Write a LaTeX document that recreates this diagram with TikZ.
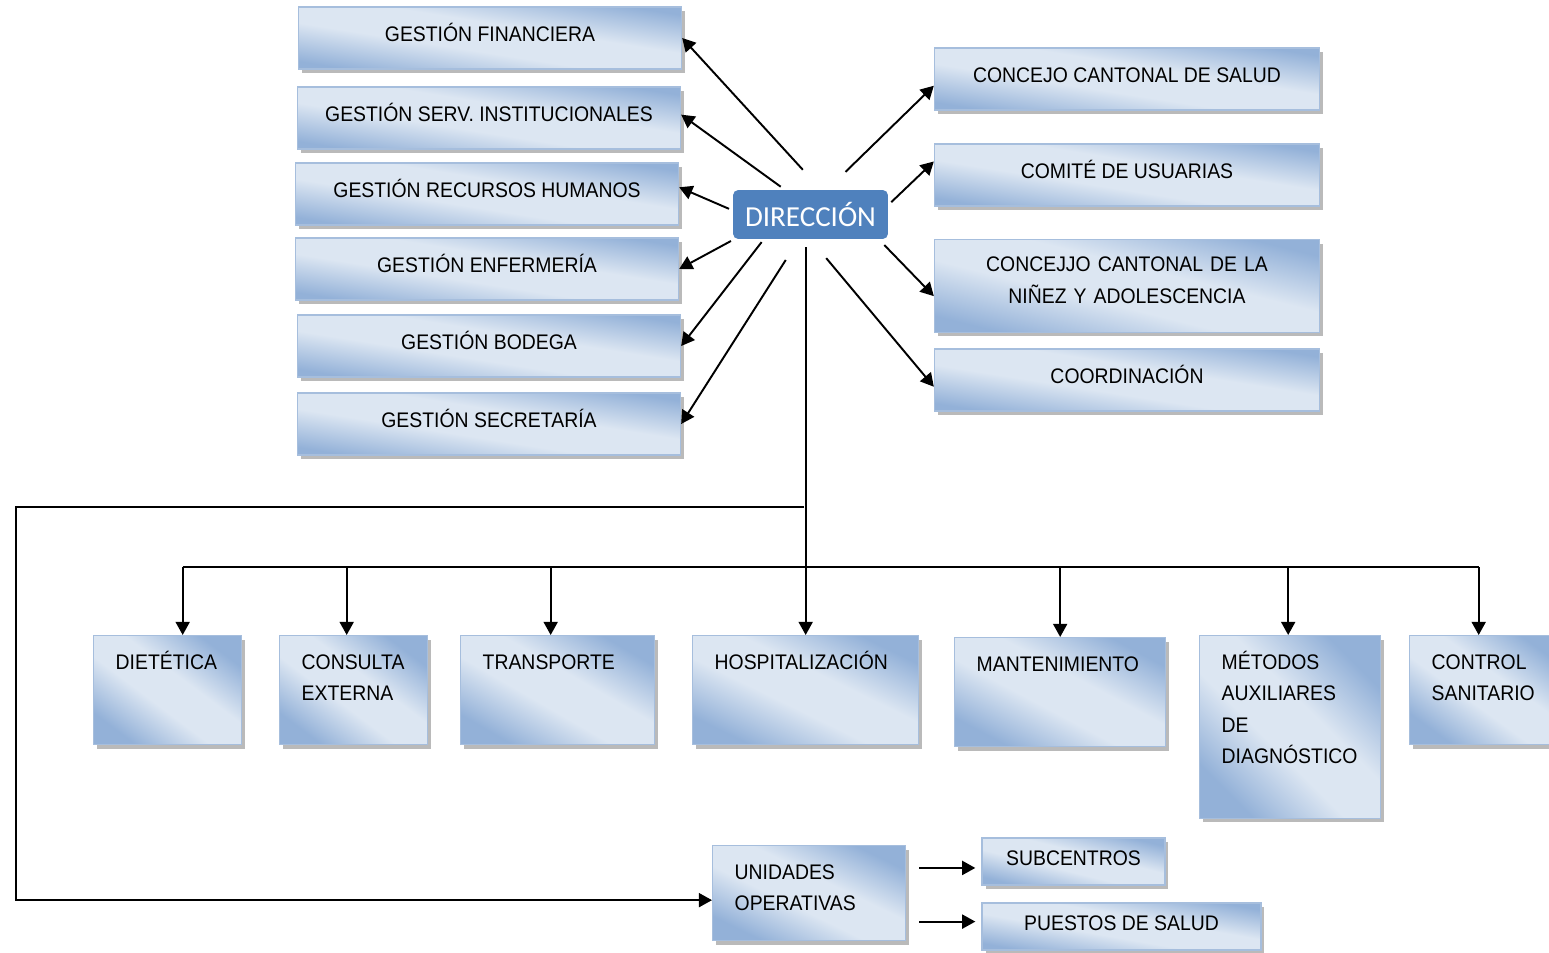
\documentclass[tikz,border=0pt]{standalone}
\usepackage{fontspec}
\setmainfont{Liberation Sans}[FakeStretch=0.92]
\newfontfamily\dirfont{Carlito}
\usepackage{tikz}
\usetikzlibrary{arrows.meta,shadows,calc}

\definecolor{boxblue}{HTML}{93B1D8}
\definecolor{boxlight}{HTML}{DCE6F2}
\definecolor{boxline}{HTML}{A6BEDD}
\definecolor{dirblue}{HTML}{4F81BD}
\pgfdeclareverticalshading{boxshade}{100bp}{color(0bp)=(boxblue); color(25bp)=(boxblue);
    color(43bp)=(boxlight); color(57bp)=(boxlight); color(75bp)=(boxblue); color(100bp)=(boxblue)}

\begin{document}
\begin{tikzpicture}[
                x=0.02cm, y=-0.02cm,
                every node/.append style={inner sep=0pt},
                box/.style={draw=boxline, line width=0.8pt, shading=boxshade, shading angle=-9,
                    drop shadow={shadow xshift=0.07cm, shadow yshift=-0.08cm, fill=black!45, opacity=0.6},
                    font=\fontsize{12}{18}\selectfont, text height=9pt, text depth=5pt},
                topbox/.style={box, minimum width=7.66cm, minimum height=1.24cm},
                lowbox/.style 2 args={box, align=left, text width=#1, inner xsep=0.44cm,
                    text height=19pt, text depth=#2},
                dirbox/.style={fill=dirblue, rounded corners=3pt, minimum width=3.1cm, minimum height=0.98cm,
                    text=white, font=\dirfont\fontsize{16.5}{18}\selectfont},
                arr/.style={line width=1.1pt, -{Triangle[length=7.5pt,width=8pt]}},
                wire/.style={line width=1.1pt}
            ]
                \useasboundingbox (0,0) rectangle (1549,953);

                % direccion
                \node[dirbox] (dir) at (810.5,214.5) {DIRECCIÓN};

                % left column
                \node[topbox] (fin) at (490,38)  {GESTIÓN FINANCIERA};
                \node[topbox] (ser) at (489,118) {GESTIÓN SERV. INSTITUCIONALES};
                \node[topbox] (rrh) at (487,194) {GESTIÓN RECURSOS HUMANOS};
                \node[topbox] (enf) at (487,269) {GESTIÓN ENFERMERÍA};
                \node[topbox] (bod) at (489,346) {GESTIÓN BODEGA};
                \node[topbox] (sec) at (489,424) {GESTIÓN SECRETARÍA};

                % right column
                \node[topbox, minimum width=7.7cm] (ccs) at (1127,79)  {CONCEJO CANTONAL DE SALUD};
                \node[topbox, minimum width=7.7cm] (cus) at (1127,175) {COMITÉ DE USUARIAS};
                \node[topbox, minimum height=1.86cm, text width=7.7cm, align=center, text depth=25pt, shading angle=-14]
                    (ccn) at (1127,286) {CONCEJJO CANTONAL DE LA\\NIÑEZ Y ADOLESCENCIA};
                \node[topbox, minimum width=7.7cm] (coo) at (1127,380) {COORDINACIÓN};

                % bottom row
                \node[lowbox={2.08cm}{43pt}, shading angle=-37, anchor=north west] (die) at (93,635)   {DIETÉTICA};
                \node[lowbox={2.08cm}{43pt}, shading angle=-37, anchor=north west] (con) at (279,635)  {CONSULTA\\EXTERNA};
                \node[lowbox={3.0cm}{43pt},  shading angle=-30, anchor=north west] (tra) at (460,635)  {TRANSPORTE};
                \node[lowbox={3.64cm}{43pt}, shading angle=-26, anchor=north west] (hos) at (692,635)  {HOSPITALIZACIÓN};
                \node[lowbox={3.34cm}{43pt}, shading angle=-28, anchor=north west] (man) at (954,637)  {MANTENIMIENTO};
                \node[lowbox={2.74cm}{85pt}, shading angle=-45, anchor=north west] (met) at (1199,635) {MÉTODOS\\AUXILIARES\\DE\\DIAGNÓSTICO};
                \node[lowbox={2.2cm}{43pt},  shading angle=-36, anchor=north west] (ctr) at (1409,635) {CONTROL\\SANITARIO};

                % unidades
                \node[lowbox={2.98cm}{35pt}, shading angle=-26, anchor=north west] (uni) at (712,845) {UNIDADES\\OPERATIVAS};
                \node[box, minimum width=3.66cm, minimum height=0.94cm, shading angle=-14] (sub) at (1073.5,861.5) {SUBCENTROS};
                \node[box, minimum width=5.58cm, minimum height=0.94cm, shading angle=-10] (pue) at (1121.5,926.5) {PUESTOS DE SALUD};

                % arrows out of direccion
                \draw[arr, shorten <=0.54cm] (dir.67)  -- (fin.east);
                \draw[arr, shorten <=0.1cm]  (dir.136) -- (ser.1.5);
                \draw[arr, shorten <=0.08cm] (dir.177) -- (rrh.2);
                \draw[arr, shorten <=0.07cm] (dir.198) -- (enf.east);
                \draw[arr, shorten <=0.07cm] (dir.208) -- (bod.east);
                \draw[arr, shorten <=0.49cm] (dir.245) -- (sec.east);
                \draw[arr, shorten <=0.51cm] (dir.56)  -- (ccs.182);
                \draw[arr, shorten <=0.08cm] (dir.7)   -- (cus.176);
                \draw[arr, shorten <=0.16cm] (dir.340) -- (ccn.183.5);
                \draw[arr, shorten <=0.49cm] (dir.270) -- (coo.182);

                % trunk and bus
                \draw[arr, shorten <=0.16cm] (dir.south -| hos.north) -- (hos.north);
                \coordinate (bus) at (807,567);
                \coordinate (split) at (804,507);
                \draw[wire] ($(die.north |- bus)+(15,0)$) -- ($(ctr.north |- bus)+(-8,0)$);
                \foreach \n/\dx in {die/15,con/-7,tra/-7,man/0,met/-2,ctr/-8}
                    \draw[arr] ($(\n.north |- bus)+(\dx,0)$) -- ($(\n.north)+(\dx,0)$);

                % unidades operativas
                \draw[arr] (split) -- ++(-788,0) |- ($(uni.west)+(0,7)$);
                \draw[arr, shorten <=0.26cm, shorten >=0.12cm] (uni.east |- sub.184) -- (sub.184);
                \draw[arr, shorten <=0.26cm, shorten >=0.12cm] (uni.east |- pue.178) -- (pue.178);
            \end{tikzpicture}
\end{document}
